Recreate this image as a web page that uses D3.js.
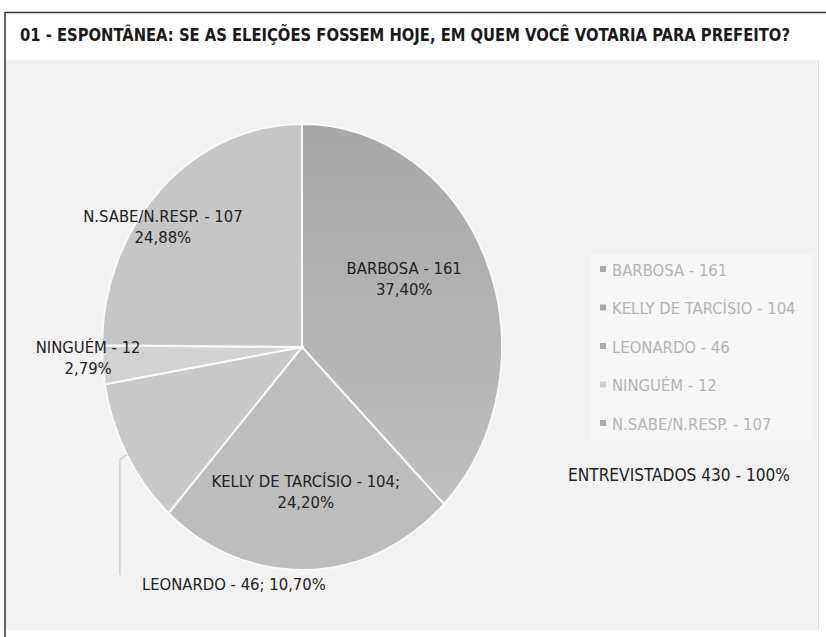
<!DOCTYPE html>
<html>
<head>
<meta charset="utf-8">
<script src="https://cdn.jsdelivr.net/npm/d3@7"></script>
<style>
  body { margin: 0; background: #fff; }
  text { font-family: "DejaVu Sans Condensed", "Liberation Sans Narrow", sans-serif; }
</style>
</head>
<body>
<script>
const names = ["BARBOSA", "KELLY DE TARCÍSIO", "LEONARDO", "NINGUÉM", "N.SABE/N.RESP."];
const votes = [161, 104, 46, 12, 107];
const pcts = ["37,40%", "24,20%", "10,70%", "2,79%", "24,88%"];
const total = 430;

const W = 826, H = 637;
const cx = 302, cy = 347, r = 200, squash = 1.115;

const svg = d3.select("body").append("svg")
    .attr("width", W)
    .attr("height", H);

const defs = svg.append("defs");
const grad = defs.append("linearGradient")
    .attr("id", "gBarbosa")
    .attr("x1", 0).attr("y1", 0).attr("x2", 0).attr("y2", 1);
grad.append("stop").attr("offset", "0%").attr("stop-color", "#a7a7a7");
grad.append("stop").attr("offset", "100%").attr("stop-color", "#bfbfbf");

// frame + title band
svg.append("rect").attr("x", 0).attr("y", 0).attr("width", W).attr("height", H).attr("fill", "#fff");
svg.append("rect")
    .attr("x", 6).attr("y", 60).attr("width", 812).attr("height", 570)
    .attr("fill", "#f2f2f2");
svg.append("line").attr("x1", 818.5).attr("x2", 818.5).attr("y1", 60).attr("y2", 630)
    .attr("stroke", "#dcdcdc");
svg.append("path")
    .attr("d", `M5,637 V12.5 H${W}`)
    .attr("fill", "none")
    .attr("stroke", "#333")
    .attr("stroke-width", 1.5);

svg.append("text")
    .attr("x", 20)
    .attr("y", 41)
    .attr("textLength", 770)
    .attr("lengthAdjust", "spacingAndGlyphs")
    .style("font-size", "17px")
    .style("font-weight", "bold")
    .attr("fill", "#1a1a1a")
    .text("01 - ESPONTÂNEA: SE AS ELEIÇÕES FOSSEM HOJE, EM QUEM VOCÊ VOTARIA PARA PREFEITO?");

const color = d3.scaleOrdinal()
    .domain(names)
    .range(["url(#gBarbosa)", "#bdbdbd", "#c9c9c9", "#d2d2d2", "#c6c6c6"]);

const pie = d3.pie().sort(null).value(d => d.v);
const arcs = pie(names.map((n, i) => ({ n, v: votes[i], p: pcts[i] })));
const arc = d3.arc().innerRadius(0).outerRadius(r);

const g = svg.append("g")
    .attr("transform", `translate(${cx},${cy}) scale(1,${squash})`);

g.selectAll("path.slice")
    .data(arcs)
    .enter().append("path")
    .attr("class", "slice")
    .attr("d", arc)
    .attr("fill", d => color(d.data.n))
    .attr("stroke", "#fafafa")
    .attr("stroke-width", 2)
    .attr("vector-effect", "non-scaling-stroke");

// label radius factor and angle nudge (deg) per slice
const labelR = [0.6, 0.64, 1.0, 1.07, 0.885];
const labelRot = [-9, 0, 0, 2.5, -7];
const pt = (a, k) => [cx + Math.sin(a) * r * k, cy - Math.cos(a) * r * k * squash];

arcs.forEach((d, i) => {
    const mid = (d.startAngle + d.endAngle) / 2 + labelRot[i] * Math.PI / 180;
    if (i === 2) {
        // leader line to label under the pie
        const p0 = pt(mid, 1.0);
        const p1 = [p0[0] - 7, p0[1] + 5];
        const p2 = [p1[0], cy + r * squash + 5];
        svg.append("path")
            .attr("d", d3.line()([p0, p1, p2]))
            .attr("fill", "none")
            .attr("stroke", "#d0d0d0")
            .attr("stroke-width", 1.5);
        svg.append("text")
            .attr("x", p2[0] + 22)
            .attr("y", p2[1] + 15)
            .style("font-size", "16.5px")
            .attr("fill", "#222")
            .text(`${d.data.n} - ${d.data.v}; ${d.data.p}`);
        return;
    }
    const [x, y] = pt(mid, labelR[i]);
    const t = svg.append("text")
        .attr("x", x)
        .attr("y", y)
        .attr("text-anchor", "middle")
        .style("font-size", "16.5px")
        .attr("fill", "#222");
    t.append("tspan").attr("x", x).attr("dy", "-0.15em")
        .text(`${d.data.n} - ${d.data.v}${i === 1 ? ";" : ""}`);
    t.append("tspan").attr("x", x).attr("dy", "1.25em").text(d.data.p);
});

// legend
const legend = svg.append("g");
legend.append("rect")
    .attr("x", 590).attr("y", 254).attr("width", 222).attr("height", 186)
    .attr("fill", "#f7f7f7");
const item = legend.selectAll("g.item")
    .data(names)
    .enter().append("g")
    .attr("class", "item")
    .attr("transform", (d, i) => `translate(600,${270 + i * 38.5})`);
item.append("rect")
    .attr("x", 0).attr("y", -4).attr("width", 6).attr("height", 6)
    .attr("fill", (d, i) => i === 3 ? "#cfcfcf" : "#aaa");
item.append("text")
    .attr("x", 12)
    .attr("y", 0)
    .attr("dy", "0.35em")
    .style("font-size", "16.5px")
    .attr("fill", "#b4b4b4")
    .text((d, i) => `${d} - ${votes[i]}`);

svg.append("text")
    .attr("x", 568)
    .attr("y", 481)
    .attr("textLength", 222)
    .attr("lengthAdjust", "spacingAndGlyphs")
    .style("font-size", "17px")
    .attr("fill", "#222")
    .text(`ENTREVISTADOS ${total} - 100%`);
</script>
</body>
</html>
